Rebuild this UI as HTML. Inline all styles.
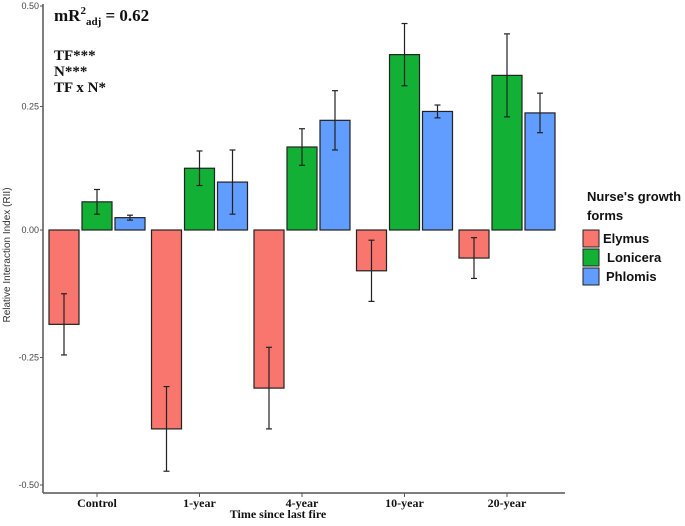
<!DOCTYPE html>
<html><head><meta charset="utf-8"><style>
body{margin:0;background:#fff;}
svg{display:block;}
.tk{font-family:"Liberation Sans",sans-serif;font-size:9px;fill:#444;}
.xl{font-family:"Liberation Serif",serif;font-size:12px;font-weight:bold;fill:#111;}
.lg{font-family:"Liberation Sans",sans-serif;font-size:13px;font-weight:bold;fill:#111;}
.an{font-family:"Liberation Serif",serif;font-size:15px;font-weight:bold;fill:#111;}
</style></head><body>
<svg id="chart" width="685" height="526">
<g id="ax"></g><g id="bars"></g>
<text class="an" x="54" y="21" style="font-size:17px">mR<tspan font-size="11" dy="-7">2</tspan><tspan font-size="11" dy="11">adj</tspan><tspan dy="-4"> = 0.62</tspan></text>
<text class="an" x="54" y="60">TF***</text>
<text class="an" x="54" y="76">N***</text>
<text class="an" x="54" y="92">TF x N*</text>
<text x="10" y="255" transform="rotate(-90 10 255)" text-anchor="middle" style="font-family:'Liberation Sans',sans-serif;font-size:10px;fill:#333">Relative Interaction Index (RII)</text>
<text class="xl" x="278" y="518" text-anchor="middle">Time since last fire</text>
<g>
<text class="lg" x="587" y="201">Nurse's growth</text>
<text class="lg" x="587" y="220">forms</text>
<rect x="583" y="230" width="16" height="17" fill="#F8766D" stroke="#222"/>
<rect x="583" y="249" width="16" height="17" fill="#12B035" stroke="#222"/>
<rect x="583" y="268" width="16" height="17" fill="#619CFF" stroke="#222"/>
<text class="lg" x="603" y="243">Elymus</text>
<text class="lg" x="607" y="262">Lonicera</text>
<text class="lg" x="606" y="281">Phlomis</text>
</g>
</svg>
<script>
const categories=["Control","1-year","4-year","10-year","20-year"];
const seriesNames=["Elymus","Lonicera","Phlomis"];
const elymus=[-0.185,-0.39,-0.31,-0.08,-0.055];
const elymusErr=[0.06,0.083,0.08,0.06,0.04];
const lonicera=[0.057,0.125,0.168,0.355,0.313];
const loniceraErr=[0.025,0.035,0.037,0.063,0.084];
const phlomis=[0.025,0.097,0.222,0.24,0.237];
const phlomisErr=[0.005,0.065,0.06,0.013,0.04];
const tickVals=[0.5,0.25,0,-0.25,-0.5];
const tickLabels=["0.50","0.25","0.00","-0.25","-0.50"];
const colors=["#F8766D","#12B035","#619CFF"];
const NS="http://www.w3.org/2000/svg";
function y(v){return 230-v*(v>=0?494:510);}
function tickY(v){return v===0.5?6:y(v);}
function xc(i){return 97+i*102.5;}
function mk(p,tag,a){const e=document.createElementNS(NS,tag);for(const k in a)e.setAttribute(k,a[k]);p.appendChild(e);return e;}
const ax=document.getElementById('ax');
const yl=mk(ax,'line',{x1:43,y1:4,x2:43,y2:493,stroke:'#555','stroke-width':1.5});


const xl=mk(ax,'line',{x1:43,y1:493,x2:565,y2:493,stroke:'#555','stroke-width':1.5});


tickVals.forEach((v,i)=>{const ty=tickY(v);
mk(ax,'line',{x1:40,y1:ty,x2:43,y2:ty,stroke:'#555'});
const t=mk(ax,'text',{x:39,y:ty+3,'text-anchor':'end',class:'tk'});t.textContent=tickLabels[i];

});
categories.forEach((c,i)=>{mk(ax,'line',{x1:xc(i),y1:493,x2:xc(i),y2:497,stroke:'#555'});
const t=mk(ax,'text',{x:xc(i),y:507,'text-anchor':'middle',class:'xl'});t.textContent=c;

});
const bars=document.getElementById('bars');
const vals=[elymus,lonicera,phlomis],errs=[elymusErr,loniceraErr,phlomisErr];
categories.forEach((c,i)=>{vals.forEach((s,j)=>{
const v=s[i],cx=xc(i)+(j-1)*33,w=30;
const r=mk(bars,'rect',{x:cx-w/2,y:Math.min(y(v),y(0)),width:w,height:Math.abs(y(v)-y(0)),fill:colors[j],stroke:'#222','stroke-width':1.2});


const e=errs[j][i],g=mk(bars,'g',{stroke:'#222','stroke-width':1.2});


mk(g,'line',{x1:cx,y1:y(v+e),x2:cx,y2:y(v-e)});
mk(g,'line',{x1:cx-3,y1:y(v+e),x2:cx+3,y2:y(v+e)});
mk(g,'line',{x1:cx-3,y1:y(v-e),x2:cx+3,y2:y(v-e)});
});});
</script>
</body></html>
